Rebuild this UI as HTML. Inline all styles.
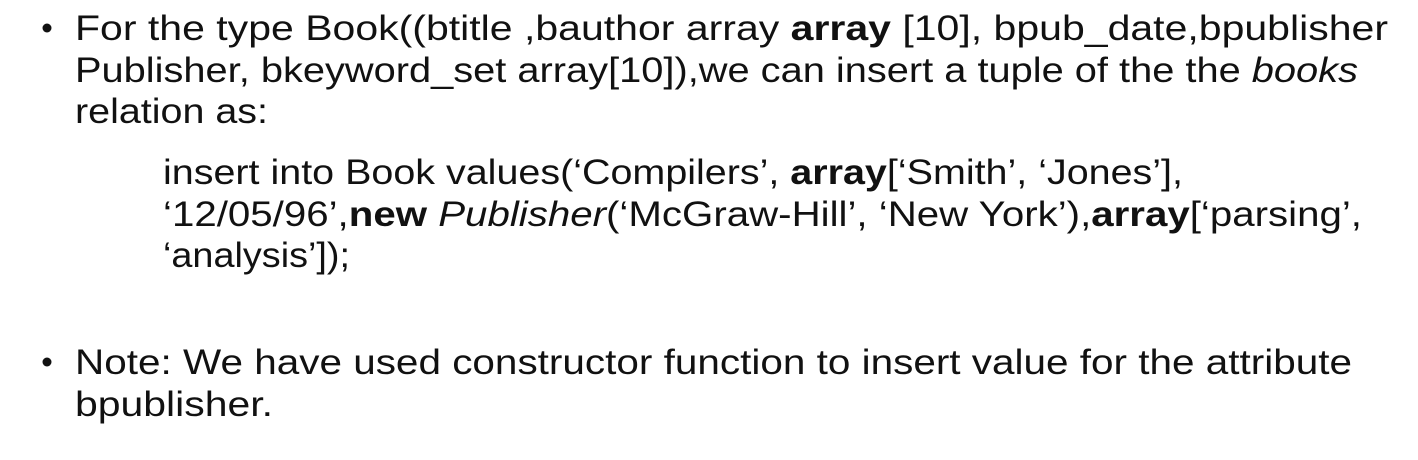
<!DOCTYPE html>
<html><head><meta charset="utf-8"><style>
html,body{margin:0;padding:0;background:#fff;width:1418px;height:460px;overflow:hidden}
svg text{font-family:"Liberation Sans",sans-serif;font-size:35px;fill:#111}
</style></head><body>
<svg width="1418" height="460" xmlns="http://www.w3.org/2000/svg">
<rect width="1418" height="460" fill="#fff"/>
<circle cx="47" cy="28" r="4.5" fill="#111"/>
<circle cx="47" cy="362" r="4.5" fill="#111"/>
<text x="75" y="40" textLength="1313" lengthAdjust="spacingAndGlyphs">For the type  Book((btitle ,bauthor array <tspan font-weight="bold">array</tspan> [10], bpub_date,bpublisher</text>
<text x="75" y="82" textLength="1283" lengthAdjust="spacingAndGlyphs">Publisher, bkeyword_set array[10]),we can insert a tuple of the the <tspan font-style="italic">books</tspan></text>
<text x="75" y="123" textLength="193" lengthAdjust="spacingAndGlyphs">relation as:</text>
<text x="163" y="184" textLength="1020" lengthAdjust="spacingAndGlyphs">insert into Book values(‘Compilers’, <tspan font-weight="bold">array</tspan>[‘Smith’, ‘Jones’],</text>
<text x="163" y="226" textLength="1199" lengthAdjust="spacingAndGlyphs">‘12/05/96’,<tspan font-weight="bold">new</tspan> <tspan font-style="italic">Publisher</tspan>(‘McGraw-Hill’, ‘New   York’),<tspan font-weight="bold">array</tspan>[‘parsing’,</text>
<text x="163" y="267" textLength="187" lengthAdjust="spacingAndGlyphs">‘analysis’]);</text>
<text x="75" y="374" textLength="1277" lengthAdjust="spacingAndGlyphs">Note: We have used constructor function to insert value for the attribute</text>
<text x="75" y="416" textLength="198" lengthAdjust="spacingAndGlyphs">bpublisher.</text>
</svg>
</body></html>
